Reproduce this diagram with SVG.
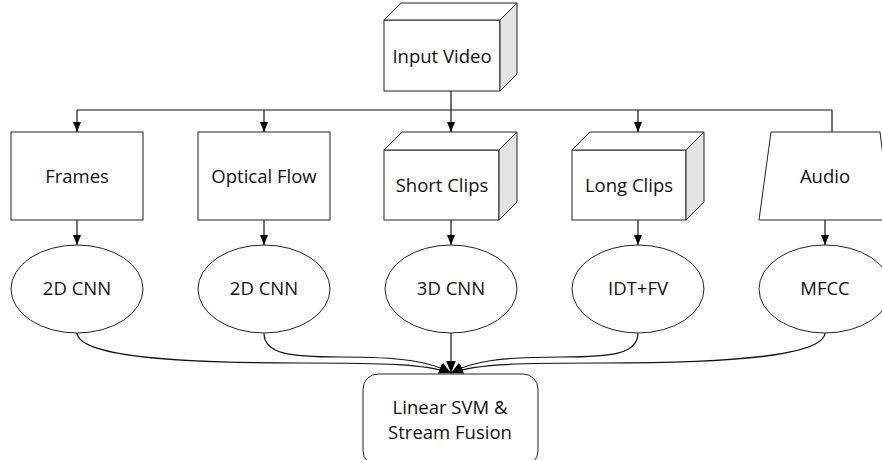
<svg xmlns="http://www.w3.org/2000/svg" width="882" height="460" viewBox="0 0 882 460">
<defs>
<style>
.s{fill:#fff;stroke:#222;stroke-width:1}
.side{fill:#e3e3e3;stroke:#222;stroke-width:1}
.c{fill:none;stroke:#111;stroke-width:1.2}
.t{font-family:"Open Sans","Liberation Sans",sans-serif;font-size:18.5px;fill:#111;text-anchor:middle}
</style>
<marker id="ah" viewBox="0 0 10 8" refX="10" refY="4" markerWidth="10" markerHeight="8" markerUnits="userSpaceOnUse" orient="auto">
<path d="M0,0 L10,4 L0,8 Z" fill="#000"/>
</marker>
<marker id="ah2" viewBox="0 0 10 8" refX="10" refY="4" markerWidth="12" markerHeight="10" markerUnits="userSpaceOnUse" orient="auto">
<path d="M0,0 L10,4 L0,8 Z" fill="#000"/>
</marker>
</defs>
<g id="connectors">
<path class="c" d="M451,91 V110"/>
<path class="c" d="M77,110 H832"/>
<path class="c" d="M77,110 V132" marker-end="url(#ah)"/>
<path class="c" d="M264,110 V132" marker-end="url(#ah)"/>
<path class="c" d="M451,110 V132" marker-end="url(#ah)"/>
<path class="c" d="M638,110 V132" marker-end="url(#ah)"/>
<path class="c" d="M832,110 V132"/>
<path class="c" d="M77,220 V245" marker-end="url(#ah)"/>
<path class="c" d="M264,220 V245" marker-end="url(#ah)"/>
<path class="c" d="M451,220 V245" marker-end="url(#ah)"/>
<path class="c" d="M638,220 V245" marker-end="url(#ah)"/>
<path class="c" d="M825,220 V245" marker-end="url(#ah)"/>
<path class="c" d="M77,333 C79,356 170,363 300,363 C385,363 425,364 451,373" marker-end="url(#ah2)"/>
<path class="c" d="M264,333 C264,354 290,357 340,357 C400,357 430,361 451,373" marker-end="url(#ah2)"/>
<path class="c" d="M451,333 V373" marker-end="url(#ah2)"/>
<path class="c" d="M638,333 C638,354 612,357 562,357 C502,357 472,361 451,373" marker-end="url(#ah2)"/>
<path class="c" d="M825,333 C823,356 732,363 602,363 C517,363 477,364 451,373" marker-end="url(#ah2)"/>
</g>
<g id="input-video">
<rect class="s" x="384" y="20" width="116" height="71"/>
<polygon class="s" points="384,20 401,3 517,3 500,20"/>
<polygon class="side" points="500,20 517,3 517,74 500,91"/>
<text class="t" x="442" y="63">Input Video</text>
</g>
<g id="frames">
<rect class="s" x="11" y="132" width="132" height="88"/>
<text class="t" x="77" y="183">Frames</text>
</g>
<g id="optical-flow">
<rect class="s" x="198" y="132" width="132" height="88"/>
<text class="t" x="264" y="183">Optical Flow</text>
</g>
<g id="short-clips">
<rect class="s" x="384" y="150" width="115" height="70"/>
<polygon class="s" points="384,150 402,132 517,132 499,150"/>
<polygon class="side" points="499,150 517,132 517,202 499,220"/>
<text class="t" x="442" y="192">Short Clips</text>
</g>
<g id="long-clips">
<rect class="s" x="572" y="150" width="114" height="70"/>
<polygon class="s" points="572,150 590,132 704,132 686,150"/>
<polygon class="side" points="686,150 704,132 704,202 686,220"/>
<text class="t" x="629" y="192">Long Clips</text>
</g>
<g id="audio">
<polygon class="s" points="771,132 880,132 891,220 759,220"/>
<text class="t" x="825" y="183">Audio</text>
</g>
<g id="cnn1">
<ellipse class="s" cx="77" cy="289" rx="66" ry="44"/>
<text class="t" x="77" y="295">2D CNN</text>
</g>
<g id="cnn2">
<ellipse class="s" cx="264" cy="289" rx="66" ry="44"/>
<text class="t" x="264" y="295">2D CNN</text>
</g>
<g id="cnn3d">
<ellipse class="s" cx="451" cy="289" rx="66" ry="44"/>
<text class="t" x="451" y="295">3D CNN</text>
</g>
<g id="idtfv">
<ellipse class="s" cx="638" cy="289" rx="66" ry="44"/>
<text class="t" x="638" y="295">IDT+FV</text>
</g>
<g id="mfcc">
<ellipse class="s" cx="825" cy="289" rx="66" ry="44"/>
<text class="t" x="825" y="295">MFCC</text>
</g>
<g id="fusion">
<rect class="s" x="363" y="374" width="175" height="92" rx="15" ry="15"/>
<text class="t" x="450" y="414">Linear SVM &amp;</text>
<text class="t" x="450" y="439">Stream Fusion</text>
</g>
</svg>
